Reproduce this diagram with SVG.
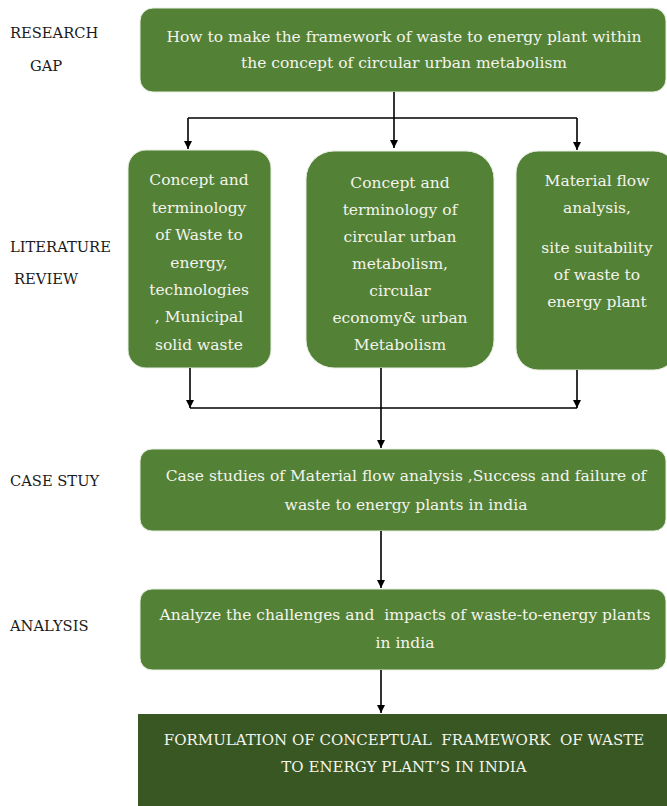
<svg xmlns="http://www.w3.org/2000/svg" width="667" height="806" viewBox="0 0 667 806">
<defs>
<marker id="ah" viewBox="0 0 10 10" refX="10" refY="5" markerWidth="8" markerHeight="8" markerUnits="userSpaceOnUse" orient="auto">
<path d="M0,0 L10,5 L0,10 z" fill="#000"/>
</marker>
<style>
.box{fill:#538135;stroke:#e8efe2;stroke-width:1}
.dark{fill:#385723}
.t{font-family:"DejaVu Serif","Liberation Serif",serif;font-size:15.5px;fill:#f4f4ee;text-anchor:middle}
.f{font-size:15px}
.lab{font-family:"DejaVu Serif","Liberation Serif",serif;font-size:14.7px;fill:#1a1a1a}
.c{fill:none;stroke:#000;stroke-width:1.6}
</style>
</defs>
<rect width="667" height="806" fill="#fff"/>
<g id="labels">
<text class="lab" x="10" y="38">RESEARCH</text>
<text class="lab" x="30" y="71">GAP</text>
<text class="lab" x="10" y="252">LITERATURE</text>
<text class="lab" x="14" y="284">REVIEW</text>
<text class="lab" x="10" y="486">CASE STUY</text>
<text class="lab" x="10" y="631">ANALYSIS</text>
</g>
<g id="gap">
<rect class="box" x="140" y="8" width="526" height="84" rx="13"/>
<text class="t" x="404" y="42">How to make the framework of waste to energy plant within</text>
<text class="t" x="404" y="68">the concept of circular urban metabolism</text>
</g>
<g id="lit1">
<rect class="box" x="128" y="150" width="143" height="218" rx="18"/>
<text class="t" x="199" y="185">Concept and</text>
<text class="t" x="199" y="213">terminology</text>
<text class="t" x="199" y="240">of Waste to</text>
<text class="t" x="199" y="268">energy,</text>
<text class="t" x="199" y="295">technologies</text>
<text class="t" x="199" y="322">, Municipal</text>
<text class="t" x="199" y="350">solid waste</text>
</g>
<g id="lit2">
<rect class="box" x="306" y="151" width="188" height="217" rx="28"/>
<text class="t" x="400" y="188">Concept and</text>
<text class="t" x="400" y="215">terminology of</text>
<text class="t" x="400" y="242">circular urban</text>
<text class="t" x="400" y="269">metabolism,</text>
<text class="t" x="400" y="296">circular</text>
<text class="t" x="400" y="323">economy&amp; urban</text>
<text class="t" x="400" y="350">Metabolism</text>
</g>
<g id="lit3">
<rect class="box" x="516" y="151" width="160" height="219" rx="22"/>
<text class="t" x="597" y="186">Material flow</text>
<text class="t" x="597" y="213">analysis,</text>
<text class="t" x="597" y="253">site suitability</text>
<text class="t" x="597" y="280">of waste to</text>
<text class="t" x="597" y="307">energy plant</text>
</g>
<g id="case">
<rect class="box" x="140" y="449" width="526" height="82" rx="12"/>
<text class="t" x="406" y="481">Case studies of Material flow analysis ,Success and failure of</text>
<text class="t" x="406" y="510">waste to energy plants in india</text>
</g>
<g id="analysis">
<rect class="box" x="140" y="589" width="526" height="81" rx="12"/>
<text class="t" x="405" y="620" xml:space="preserve">Analyze the challenges and  impacts of waste-to-energy plants</text>
<text class="t" x="405" y="648">in india</text>
</g>
<g id="final">
<rect class="dark" x="138" y="714" width="529" height="92"/>
<text class="t f" x="404" y="745" xml:space="preserve">FORMULATION OF CONCEPTUAL  FRAMEWORK  OF WASTE</text>
<text class="t f" x="404" y="772">TO ENERGY PLANT’S IN INDIA</text>
</g>
<g id="connectors">
<path class="c" d="M394,92 V148" marker-end="url(#ah)"/>
<path class="c" d="M188,118 H577"/>
<path class="c" d="M188,118 V149" marker-end="url(#ah)"/>
<path class="c" d="M577,118 V150" marker-end="url(#ah)"/>
<path class="c" d="M190,368 V408" marker-end="url(#ah)"/>
<path class="c" d="M577,370 V408" marker-end="url(#ah)"/>
<path class="c" d="M190,408 H577"/>
<path class="c" d="M381,368 V448" marker-end="url(#ah)"/>
<path class="c" d="M381,531 V588" marker-end="url(#ah)"/>
<path class="c" d="M381,670 V713" marker-end="url(#ah)"/>
</g>
</svg>
